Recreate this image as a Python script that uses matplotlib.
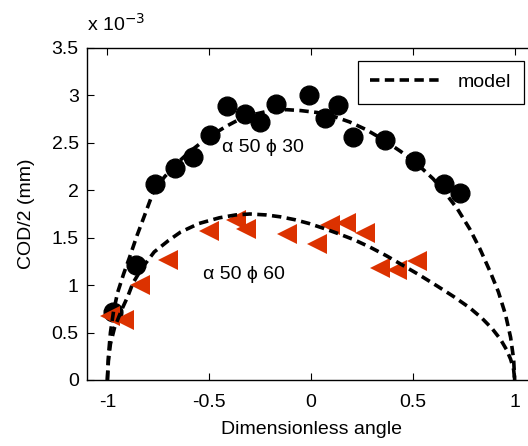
import matplotlib
matplotlib.use("Agg")
import matplotlib.pyplot as plt

# measured points (COD/2 in units of 1e-3 mm)
phi30_x = [-0.97, -0.86, -0.765, -0.667, -0.58, -0.495, -0.413, -0.324, -0.25,
           -0.17, -0.01, 0.07, 0.134, 0.207, 0.363, 0.51, 0.652, 0.73]
phi30_y = [0.72, 1.21, 2.07, 2.23, 2.35, 2.58, 2.89, 2.80, 2.72,
           2.91, 3.00, 2.76, 2.90, 2.56, 2.53, 2.31, 2.07, 1.97]

phi60_x = [-0.985, -0.92, -0.84, -0.70, -0.50, -0.37, -0.32, -0.116, 0.028,
           0.093, 0.17, 0.265, 0.34, 0.42, 0.52]
phi60_y = [0.67, 0.63, 1.00, 1.27, 1.57, 1.69, 1.59, 1.54, 1.43,
           1.63, 1.66, 1.55, 1.18, 1.16, 1.25]

# model curves
model30_x = [-1.0, -0.995, -0.985, -0.97, -0.95, -0.92, -0.89, -0.855, -0.82,
             -0.775, -0.72, -0.66, -0.6, -0.54, -0.48, -0.42, -0.35, -0.28,
             -0.2, -0.12, -0.05, 0.03, 0.11, 0.19, 0.27, 0.35, 0.44, 0.52,
             0.60, 0.66, 0.72, 0.78, 0.83, 0.88, 0.92, 0.955, 0.98, 0.995, 1.0]
model30_y = [0.0, 0.25, 0.5, 0.72, 0.92, 1.12, 1.30, 1.52, 1.72,
             1.98, 2.14, 2.28, 2.40, 2.50, 2.59, 2.67, 2.75, 2.80,
             2.84, 2.85, 2.84, 2.82, 2.78, 2.72, 2.64, 2.54, 2.41, 2.28,
             2.12, 1.97, 1.80, 1.59, 1.38, 1.14, 0.93, 0.69, 0.45, 0.22, 0.0]

model60_x = [-1.0, -0.995, -0.985, -0.965, -0.93, -0.9, -0.875, -0.83, -0.77,
             -0.7, -0.64, -0.55, -0.45, -0.37, -0.3, -0.22, -0.15, -0.08,
             -0.01, 0.06, 0.125, 0.21, 0.29, 0.37, 0.45, 0.53, 0.62, 0.7,
             0.78, 0.84, 0.89, 0.93, 0.96, 0.98, 0.995, 1.0]
model60_y = [0.0, 0.2, 0.38, 0.55, 0.74, 0.88, 1.02, 1.18, 1.35,
             1.47, 1.56, 1.65, 1.71, 1.74, 1.75, 1.74, 1.72, 1.69,
             1.65, 1.60, 1.55, 1.48, 1.40, 1.31, 1.21, 1.11, 0.99, 0.88,
             0.76, 0.65, 0.54, 0.43, 0.32, 0.22, 0.11, 0.0]

xticks = [-1, -0.5, 0, 0.5, 1]
yticks = [0, 0.5, 1, 1.5, 2, 2.5, 3, 3.5]

plt.rcParams["font.family"] = ["Liberation Sans", "DejaVu Sans"]
FS = 14

fig = plt.figure(figsize=(5.28, 4.46), dpi=100)
ax = fig.add_axes([0.1648, 0.148, 0.8485, 0.7444])

ax.plot(phi30_x, phi30_y, "o", color="black", markersize=13.5, zorder=2)
ax.plot(phi60_x, phi60_y, "<", color="#dc3200", markersize=15,
        markeredgewidth=0, zorder=2)

ax.plot(model30_x, model30_y, color="black", lw=2.6, ls="--",
        dashes=(2.6, 1.5), label="model", zorder=3)
ax.plot(model60_x, model60_y, color="black", lw=2.6, ls="--",
        dashes=(2.6, 1.5), zorder=3)

ax.text(-0.436, 2.45, "α 50 ϕ 30", fontsize=FS, va="center", ha="left")
ax.text(-0.53, 1.11, "α 50 ϕ 60", fontsize=FS, va="center", ha="left")

ax.set_xlim(-1.1, 1.1)
ax.set_ylim(0, 3.5)
ax.set_xticks(xticks)
ax.set_xticklabels(["-1", "-0.5", "0", "0.5", "1"])
ax.set_yticks(yticks)
ax.set_yticklabels(["0", "0.5", "1", "1.5", "2", "2.5", "3", "3.5"])
ax.tick_params(direction="in", top=True, right=True, length=5, width=0.8,
               labelsize=FS, pad=6)
ax.tick_params(axis="x", pad=10)
for s in ax.spines.values():
    s.set_linewidth(1.0)

ax.set_xlabel("Dimensionless angle", fontsize=FS, labelpad=7)
ax.set_ylabel("COD/2 (mm)", fontsize=FS, labelpad=12)
ax.text(0.0, 1.04, "x 10$^{-3}$", transform=ax.transAxes, fontsize=FS,
        ha="left", va="bottom")

leg = ax.legend(loc="upper right", bbox_to_anchor=(524 / 528, 1 - 61 / 446),
                bbox_transform=fig.transFigure, borderaxespad=0,
                fancybox=False, edgecolor="black", framealpha=1,
                handlelength=3.7, fontsize=FS, borderpad=0.65)
leg.get_frame().set_linewidth(0.9)

fig.savefig("out.png", dpi=100)
